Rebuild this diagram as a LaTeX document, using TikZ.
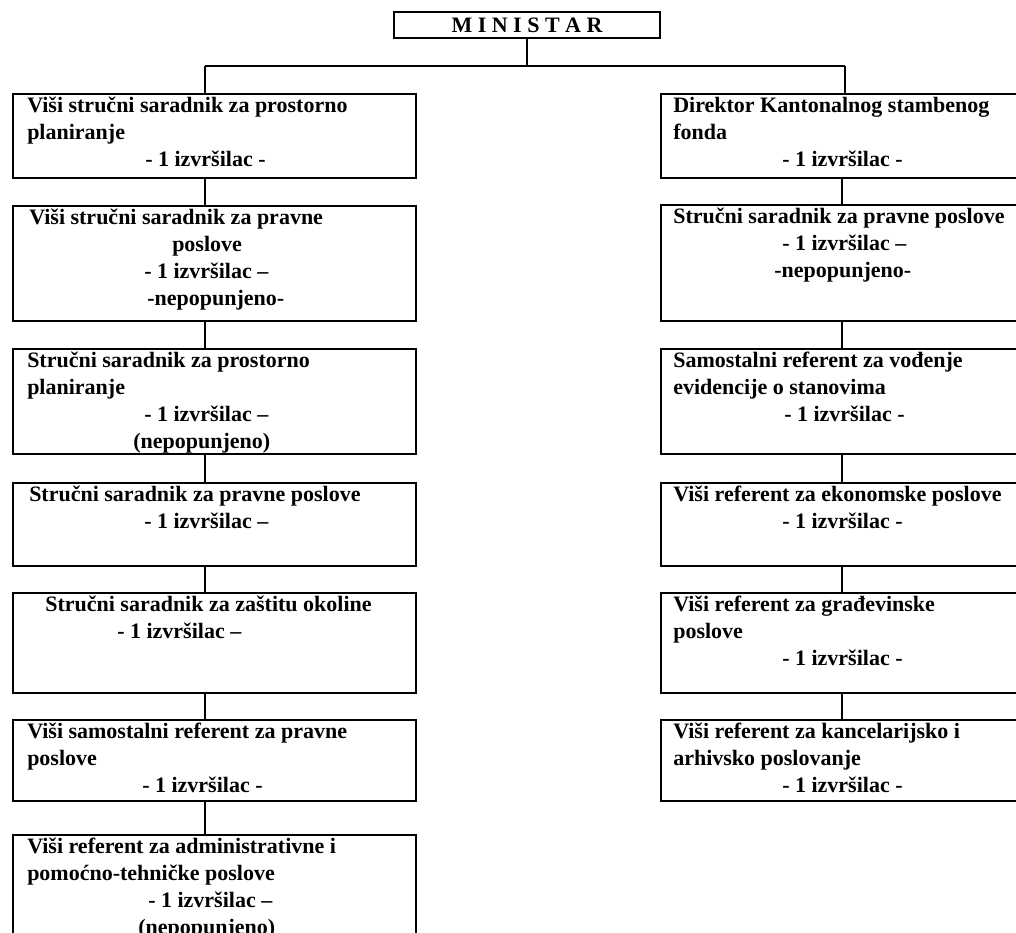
\documentclass[tikz,border=0pt]{standalone}
\usepackage{fontspec}
\setmainfont{Liberation Serif}
\newlength\pxu \setlength\pxu{0.75pt}
\newcommand\ind[1]{\hspace*{#1\pxu}}
\newcommand\fl{\rule{0pt}{12pt}}
\begin{document}
\begin{tikzpicture}[x=0.75pt,y=-0.75pt,
 box/.style={draw, line width=1.5pt, rectangle, anchor=north west, inner sep=0pt},
 txt/.style={anchor=north west, inner sep=0pt, align=left, font=\fontsize{16.5}{20.25}\selectfont\bfseries},
 conn/.style={line width=1.5pt}]
\useasboundingbox (0,0) rectangle (1016,932);
\clip (0,0) rectangle (1016,932);
% Minister
\node[box, anchor=center, minimum width=266\pxu, minimum height=26\pxu, font=\fontsize{16.5}{19.1}\selectfont\bfseries] (min) at (527,25) {M I N I S T A R};
% left column boxes
\node[box, minimum width=403\pxu, minimum height=84\pxu] (L1) at (12,93) {};
\node[box, minimum width=403\pxu, minimum height=115\pxu] (L2) at (12,205) {};
\node[box, minimum width=403\pxu, minimum height=105\pxu] (L3) at (12,348) {};
\node[box, minimum width=403\pxu, minimum height=83\pxu] (L4) at (12,482) {};
\node[box, minimum width=403\pxu, minimum height=100\pxu] (L5) at (12,592) {};
\node[box, minimum width=403\pxu, minimum height=81\pxu] (L6) at (12,719) {};
\node[box, minimum width=403\pxu, minimum height=120\pxu] (L7) at (12,834) {};
% right column boxes
\node[box, minimum width=380\pxu, minimum height=84\pxu] (R1) at (660,93) {};
\node[box, minimum width=380\pxu, minimum height=116\pxu] (R2) at (660,204) {};
\node[box, minimum width=380\pxu, minimum height=105\pxu] (R3) at (660,348) {};
\node[box, minimum width=380\pxu, minimum height=83\pxu] (R4) at (660,482) {};
\node[box, minimum width=380\pxu, minimum height=100\pxu] (R5) at (660,592) {};
\node[box, minimum width=380\pxu, minimum height=81\pxu] (R6) at (660,719) {};
% left texts
\node[txt] (L1t) at ([shift={(15,3)}]L1.north west) {\fl Viši stručni saradnik za prostorno\\ planiranje\\ \ind{118}- 1 izvršilac -};
\node[txt] (L2t) at ([shift={(17,3)}]L2.north west) {\fl Viši stručni saradnik za pravne\\ \ind{143}poslove\\ \ind{115}- 1 izvršilac –\\ \ind{118}-nepopunjeno-};
\node[txt] (L3t) at ([shift={(15,3)}]L3.north west) {\fl Stručni saradnik za prostorno\\ planiranje\\ \ind{117}- 1 izvršilac –\\ \ind{106}(nepopunjeno)};
\node[txt] (L4t) at ([shift={(17,3)}]L4.north west) {\fl Stručni saradnik za pravne poslove\\ \ind{115}- 1 izvršilac –};
\node[txt] (L5t) at ([shift={(33,3)}]L5.north west) {\fl Stručni saradnik za zaštitu okoline\\ \ind{72}- 1 izvršilac –};
\node[txt] (L6t) at ([shift={(15,3)}]L6.north west) {\fl Viši samostalni referent za pravne\\ poslove\\ \ind{115}- 1 izvršilac -};
\node[txt] (L7t) at ([shift={(15,3)}]L7.north west) {\fl Viši referent za administrativne i\\ pomoćno-tehničke poslove\\ \ind{121}- 1 izvršilac –\\ \ind{111}(nepopunjeno)};
% right texts
\node[txt] (R1t) at ([shift={(13,3)}]R1.north west) {\fl Direktor Kantonalnog stambenog\\ fonda\\ \ind{109}- 1 izvršilac -};
\node[txt] (R2t) at ([shift={(13,3)}]R2.north west) {\fl Stručni saradnik za pravne poslove\\ \ind{109}- 1 izvršilac –\\ \ind{101}-nepopunjeno-};
\node[txt] (R3t) at ([shift={(13,3)}]R3.north west) {\fl Samostalni referent za vođenje\\ evidencije o stanovima\\ \ind{111}- 1 izvršilac -};
\node[txt] (R4t) at ([shift={(13,3)}]R4.north west) {\fl Viši referent za ekonomske poslove\\ \ind{109}- 1 izvršilac -};
\node[txt] (R5t) at ([shift={(13,3)}]R5.north west) {\fl Viši referent za građevinske\\ poslove\\ \ind{109}- 1 izvršilac -};
\node[txt] (R6t) at ([shift={(13,3)}]R6.north west) {\fl Viši referent za kancelarijsko i\\ arhivsko poslovanje\\ \ind{109}- 1 izvršilac -};
% connectors
\coordinate (busL) at (205,66);
\coordinate (busR) at (845,66);
\coordinate (rc) at (842,0);
\draw[conn] (min.south) -- (min.south |- busL);
\draw[conn] (busL) -- (busR);
\draw[conn] (busL) -- (busL |- L1.north);
\draw[conn] (busR) -- (busR |- R1.north);
\draw[conn] (L1.south -| busL) -- (L2.north -| busL);
\draw[conn] (L2.south -| busL) -- (L3.north -| busL);
\draw[conn] (L3.south -| busL) -- (L4.north -| busL);
\draw[conn] (L4.south -| busL) -- (L5.north -| busL);
\draw[conn] (L5.south -| busL) -- (L6.north -| busL);
\draw[conn] (L6.south -| busL) -- (L7.north -| busL);
\draw[conn] (R1.south -| rc) -- (R2.north -| rc);
\draw[conn] (R2.south -| rc) -- (R3.north -| rc);
\draw[conn] (R3.south -| rc) -- (R4.north -| rc);
\draw[conn] (R4.south -| rc) -- (R5.north -| rc);
\draw[conn] (R5.south -| rc) -- (R6.north -| rc);
\end{tikzpicture}
\end{document}
